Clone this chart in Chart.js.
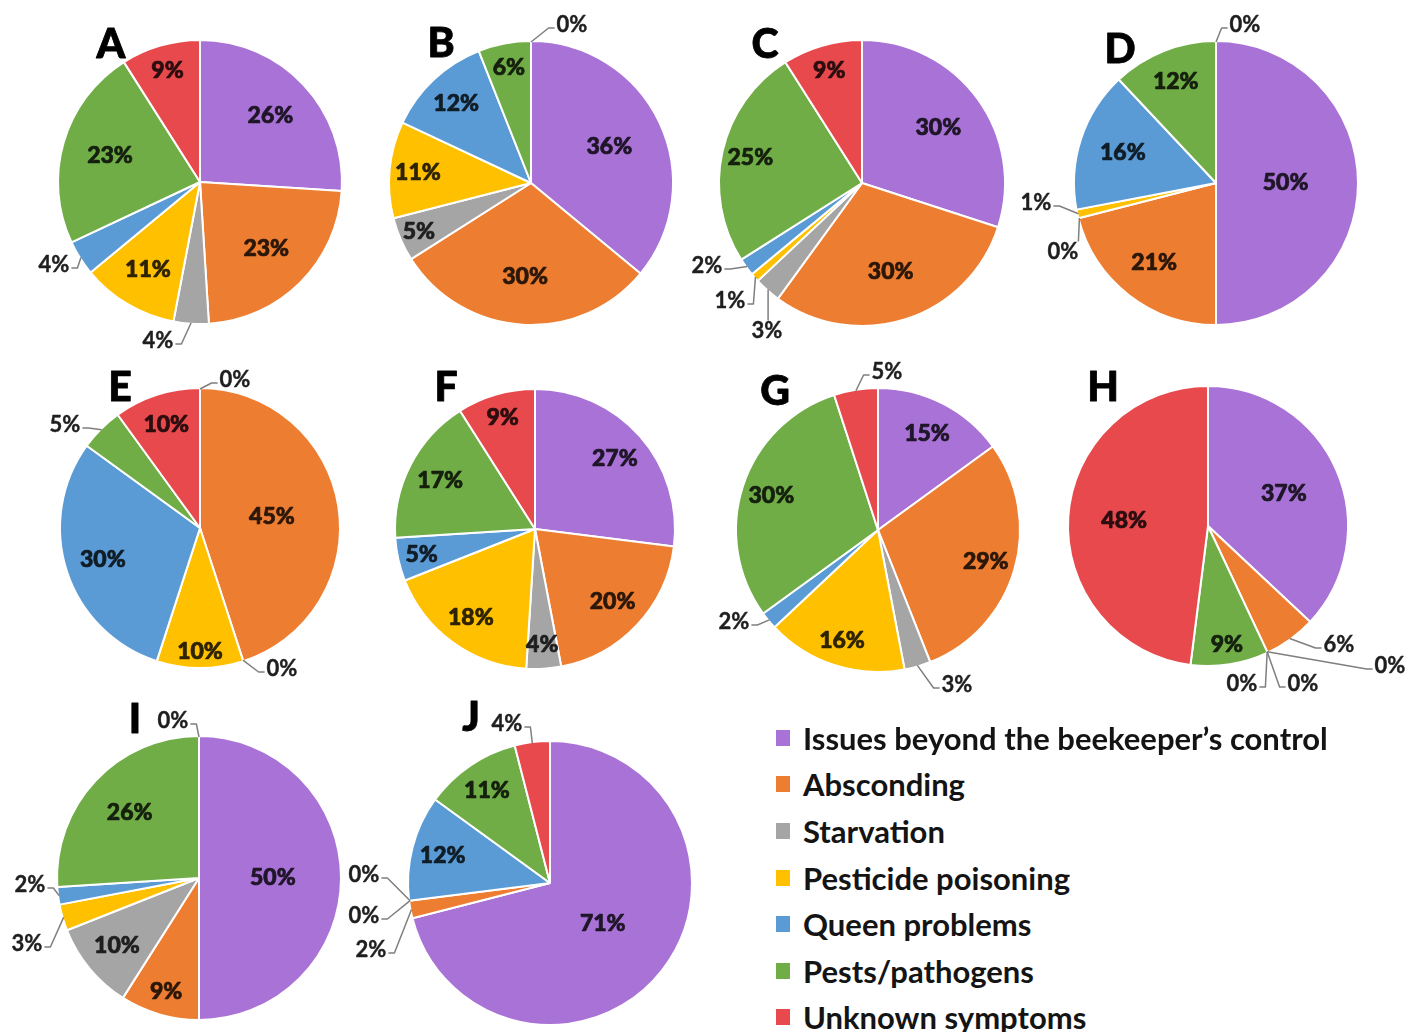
<!DOCTYPE html>
<html>
<head>
<meta charset="utf-8">
<script src="https://cdn.jsdelivr.net/npm/chart.js@4.4.1/dist/chart.umd.min.js"></script>
<style>
  html, body { margin: 0; padding: 0; background: #ffffff; }
  #stage { position: relative; width: 1411px; height: 1032px; overflow: hidden; background: #fff; }
  #stage canvas { position: absolute; }
  .legend-row { position: absolute; left: 776px; height: 44px; display: flex; align-items: center;
    font-family: Lato, "Open Sans", sans-serif; font-weight: 700; font-size: 31px; color: #141414; white-space: nowrap; }
  .legend-swatch { width: 14px; height: 16px; margin-right: 13px; flex: none; }
</style>
</head>
<body>
<div id="stage"></div>
<script>
// Causes of colony loss, percentage of reported losses per region (A–J)
const categories = [
  "Issues beyond the beekeeper’s control",
  "Absconding",
  "Starvation",
  "Pesticide poisoning",
  "Queen problems",
  "Pests/pathogens",
  "Unknown symptoms"
];
const panelNames = ["A", "B", "C", "D", "E", "F", "G", "H", "I", "J"];

const sharesA = [26, 23, 4, 11, 4, 23, 9];
const sharesB = [36, 30, 5, 11, 12, 6, 0];
const sharesC = [30, 30, 3, 1, 2, 25, 9];
const sharesD = [50, 21, 0, 1, 16, 12, 0];
const sharesE = [0, 45, 0, 10, 30, 5, 10];
const sharesF = [27, 20, 4, 18, 5, 17, 9];
const sharesG = [15, 29, 3, 16, 2, 30, 5];
const sharesH = [37, 6, 0, 0, 0, 9, 48];
const sharesI = [50, 9, 10, 3, 2, 26, 0];
const sharesJ = [71, 2, 0, 0, 12, 11, 4];
const panelShares = [sharesA, sharesB, sharesC, sharesD, sharesE, sharesF, sharesG, sharesH, sharesI, sharesJ];

const sliceColors = ["#A972D6", "#ED7D31", "#A5A5A5", "#FFC000", "#5B9BD5", "#70AD47", "#E8494C"];

// Page layout: pie centre, radius, panel letter offset
const panelLayout = [
  { cx: 200,  cy: 182, r: 142, letter: [-89, -137] },
  { cx: 531,  cy: 183, r: 142, letter: [-90, -139] },
  { cx: 862,  cy: 183, r: 143, letter: [-97, -138] },
  { cx: 1216, cy: 183, r: 142, letter: [-96, -133] },
  { cx: 200,  cy: 528, r: 140, letter: [-80, -140] },
  { cx: 535,  cy: 529, r: 140, letter: [-89, -141] },
  { cx: 878,  cy: 530, r: 142, letter: [-103, -138] },
  { cx: 1208, cy: 526, r: 140, letter: [-105, -138] },
  { cx: 199,  cy: 878, r: 142, letter: [-64, -158] },
  { cx: 550,  cy: 883, r: 142, letter: [-79, -165] }
];

// Radial position of in-slice labels (fraction of radius); null = labelled outside
const insideLabelRadius = [
  [0.68, 0.66, null, 0.72, null, 0.66, 0.82],
  [0.61, 0.66, 0.86, 0.80, 0.77, 0.83, null],
  [0.66, 0.65, null, null, null, 0.80, 0.82],
  [0.49, 0.71, null, null, 0.69, 0.77, null],
  [null, 0.52, null, 0.88, 0.73, null, 0.78],
  [0.76, 0.76, 0.83, 0.78, 0.83, 0.76, 0.83],
  [0.76, 0.79, null, 0.82, null, 0.79, null],
  [0.59, null, null, null, null, 0.86, 0.60],
  [0.52, 0.83, 0.75, null, null, 0.67, null],
  [0.47, null, null, null, 0.78, 0.79, null]
];

// Outside labels: slice index and label centre offset from the pie centre
const outsideLabels = [
  [{ i: 2, at: [-42, 159] }, { i: 4, at: [-146, 83] }],
  [{ i: 6, at: [41, -158] }],
  [{ i: 4, at: [-155, 83] }, { i: 3, at: [-132, 118] }, { i: 2, at: [-95, 148] }],
  [{ i: 6, at: [29, -158] }, { i: 3, at: [-180, 20] }, { i: 2, at: [-153, 69] }],
  [{ i: 0, at: [35, -148] }, { i: 5, at: [-135, -103] }, { i: 2, at: [82, 141] }],
  [],
  [{ i: 6, at: [9, -158] }, { i: 4, at: [-144, 92] }, { i: 2, at: [79, 155] }],
  [{ i: 1, at: [131, 119] }, { i: 2, at: [182, 140] }, { i: 3, at: [95, 158] }, { i: 4, at: [34, 158] }],
  [{ i: 6, at: [-26, -157] }, { i: 4, at: [-169, 7] }, { i: 3, at: [-172, 66] }],
  [{ i: 6, at: [-43, -159] }, { i: 2, at: [-186, -8] }, { i: 3, at: [-186, 33] }, { i: 1, at: [-179, 67] }]
];

const HALF = 220; // half size of each pie canvas
const LABEL_FONT = "900 23px Lato, 'Open Sans', sans-serif";
const OUTSIDE_FONT = "700 22px Lato, 'Open Sans', sans-serif";
const LETTER_FONT = "900 41px Lato, 'Open Sans', sans-serif";

function darken(hex, k) {
  const n = parseInt(hex.slice(1), 16);
  const r = Math.round(((n >> 16) & 255) * k);
  const g = Math.round(((n >> 8) & 255) * k);
  const b = Math.round((n & 255) * k);
  return `rgb(${r},${g},${b})`;
}

// Filled text with a thin outline in the same colour for a heavier stroke
function heavyText(ctx, text, x, y, colour, weight) {
  ctx.fillStyle = colour;
  ctx.strokeStyle = colour;
  ctx.lineWidth = weight;
  ctx.lineJoin = "round";
  ctx.strokeText(text, x, y);
  ctx.fillText(text, x, y);
}

// Draws slice percentages, leader lines and the panel letter
const sliceLabels = {
  id: "sliceLabels",
  afterDatasetsDraw(chart, args, opts) {
    const ctx = chart.ctx;
    const meta = chart.getDatasetMeta(0);
    const values = chart.data.datasets[0].data;
    const p = opts.panel;
    ctx.save();
    ctx.textAlign = "center";
    ctx.textBaseline = "middle";

    let cx = 0, cy = 0;
    meta.data.forEach((arc, i) => {
      const g = arc.getProps(["x", "y", "startAngle", "endAngle", "outerRadius"], true);
      cx = g.x; cy = g.y;
      const f = insideLabelRadius[p][i];
      if (f == null) return;
      const mid = (g.startAngle + g.endAngle) / 2;
      const rr = g.outerRadius * f;
      ctx.font = LABEL_FONT;
      heavyText(ctx, values[i] + "%", g.x + Math.cos(mid) * rr, g.y + Math.sin(mid) * rr,
        darken(sliceColors[i], 0.18), 0.7);
    });

    outsideLabels[p].forEach(o => {
      const arc = meta.data[o.i];
      const g = arc.getProps(["x", "y", "startAngle", "endAngle", "outerRadius"], true);
      const mid = (g.startAngle + g.endAngle) / 2;
      const tx = g.x + Math.cos(mid) * (g.outerRadius - 1);
      const ty = g.y + Math.sin(mid) * (g.outerRadius - 1);
      const lx = g.x + o.at[0], ly = g.y + o.at[1];
      const text = values[o.i] + "%";
      ctx.font = OUTSIDE_FONT;
      const w = ctx.measureText(text).width, h = 17;
      const left = lx - w / 2, right = lx + w / 2, top = ly - h / 2, bottom = ly + h / 2;
      ctx.beginPath();
      if (tx > right + 3) {
        ctx.moveTo(right + 2, ly + 3); ctx.lineTo(right + 8, ly + 3);
      } else if (tx < left - 3) {
        ctx.moveTo(left - 2, ly + 3); ctx.lineTo(left - 8, ly + 3);
      } else if (ty < top) {
        const sx = Math.min(Math.max(tx, left), right);
        ctx.moveTo(sx, top - 2);
      } else {
        const sx = Math.min(Math.max(tx, left), right);
        ctx.moveTo(sx, bottom + 2);
      }
      ctx.lineTo(tx, ty);
      ctx.strokeStyle = "#7f7f7f";
      ctx.lineWidth = 1.5;
      ctx.stroke();
      heavyText(ctx, text, lx, ly, "#1e1e1e", 0.4);
    });

    const L = panelLayout[p];
    ctx.font = LETTER_FONT;
    heavyText(ctx, panelNames[p], cx + L.letter[0], cy + L.letter[1], "#000000", 0.8);
    ctx.restore();
  }
};

const stage = document.getElementById("stage");

panelShares.forEach((shares, p) => {
  const L = panelLayout[p];
  const canvas = document.createElement("canvas");
  canvas.width = HALF * 2;
  canvas.height = HALF * 2;
  canvas.style.left = (L.cx - HALF) + "px";
  canvas.style.top = (L.cy - HALF) + "px";
  canvas.style.width = HALF * 2 + "px";
  canvas.style.height = HALF * 2 + "px";
  stage.appendChild(canvas);

  new Chart(canvas, {
    type: "pie",
    data: {
      labels: categories,
      datasets: [{
        data: shares,
        backgroundColor: sliceColors,
        borderColor: "#ffffff",
        borderWidth: 2,
        hoverOffset: 0
      }]
    },
    options: {
      responsive: false,
      animation: false,
      events: [],
      radius: L.r,
      layout: { padding: 0 },
      plugins: {
        legend: { display: false },
        tooltip: { enabled: false },
        sliceLabels: { panel: p }
      }
    },
    plugins: [sliceLabels]
  });
});

// Legend listing the seven loss categories
const legendRowCentres = [738, 784, 831, 878, 924, 971, 1017];
categories.forEach((name, i) => {
  const row = document.createElement("div");
  row.className = "legend-row";
  row.style.top = (legendRowCentres[i] - 22) + "px";
  const sw = document.createElement("span");
  sw.className = "legend-swatch";
  sw.style.background = sliceColors[i];
  const tx = document.createElement("span");
  tx.textContent = name;
  row.appendChild(sw);
  row.appendChild(tx);
  stage.appendChild(row);
});
</script>
</body>
</html>
